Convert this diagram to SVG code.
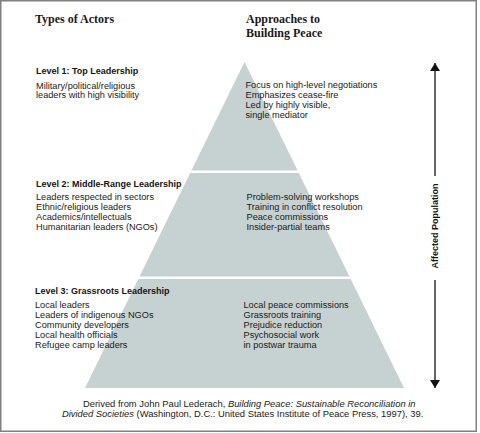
<svg xmlns="http://www.w3.org/2000/svg" width="480" height="433" viewBox="0 0 480 433">
<style>
.h{font-family:"Liberation Serif","Times New Roman",serif;font-weight:bold;font-size:12px;fill:#1a1a1a}
.b{font-family:"Liberation Sans",Arial,sans-serif;font-weight:bold;font-size:9px;fill:#151515}
.t{font-family:"Liberation Sans",Arial,sans-serif;font-size:9.2px;fill:#1a1a1a}
.c{font-family:"Liberation Sans",Arial,sans-serif;font-size:9.4px;fill:#1a1a1a}
.band{fill:#c6d1d1}
</style>
<defs>
<marker id="ah" viewBox="0 0 8 10" refX="8" refY="5" markerWidth="8" markerHeight="10" markerUnits="userSpaceOnUse" orient="auto">
<path d="M0,0 L8,5 L0,10 z" fill="#111"/>
</marker>
</defs>
<rect x="0.75" y="0.75" width="475.5" height="430.5" fill="#fff" stroke="#808080" stroke-width="1.5"/>
<g id="headers">
<text class="h" x="35" y="22.5">Types of Actors</text>
<text class="h" x="246" y="22.5">Approaches to</text>
<text class="h" x="246" y="36.5">Building Peace</text>
</g>
<g id="level1">
<polygon class="band" points="244.5,62 297.6,170.5 191.4,170.5"/>
<text class="b" x="36" y="73.5">Level 1: Top Leadership</text>
<text class="t" x="36" y="88.5">Military/political/religious</text>
<text class="t" x="36" y="98">leaders with high visibility</text>
<text class="t" x="245.5" y="88">Focus on high-level negotiations</text>
<text class="t" x="245.5" y="98">Emphasizes cease-fire</text>
<text class="t" x="245.5" y="108">Led by highly visible,</text>
<text class="t" x="245.5" y="118">single mediator</text>
</g>
<g id="level2">
<polygon class="band" points="190.2,173 298.8,173 349.5,276.5 139.5,276.5"/>
<text class="b" x="36" y="186.5">Level 2: Middle-Range Leadership</text>
<text class="t" x="36" y="199.5">Leaders respected in sectors</text>
<text class="t" x="36" y="209.5">Ethnic/religious leaders</text>
<text class="t" x="36" y="219.5">Academics/intellectuals</text>
<text class="t" x="36" y="229.5">Humanitarian leaders (NGOs)</text>
<text class="t" x="246.5" y="199.5">Problem-solving workshops</text>
<text class="t" x="246.5" y="209.5">Training in conflict resolution</text>
<text class="t" x="246.5" y="219.5">Peace commissions</text>
<text class="t" x="246.5" y="229.5">Insider-partial teams</text>
</g>
<g id="level3">
<polygon class="band" points="138.3,279 350.7,279 404,388 85,388"/>
<text class="b" x="35" y="294">Level 3: Grassroots Leadership</text>
<text class="t" x="35" y="307.5">Local leaders</text>
<text class="t" x="35" y="317.5">Leaders of indigenous NGOs</text>
<text class="t" x="35" y="327.5">Community developers</text>
<text class="t" x="35" y="337.5">Local health officials</text>
<text class="t" x="35" y="347.5">Refugee camp leaders</text>
<text class="t" x="243.5" y="308">Local peace commissions</text>
<text class="t" x="243.5" y="318">Grassroots training</text>
<text class="t" x="243.5" y="328">Prejudice reduction</text>
<text class="t" x="243.5" y="338">Psychosocial work</text>
<text class="t" x="243.5" y="348">in postwar trauma</text>
</g>
<g id="connectors">
<line x1="435" y1="176" x2="435" y2="63" stroke="#111" stroke-width="1.3" marker-end="url(#ah)"/>
<line x1="435" y1="280" x2="435" y2="388" stroke="#111" stroke-width="1.3" marker-end="url(#ah)"/>
<text class="b" transform="translate(438.3,226) rotate(-90)" text-anchor="middle">Affected Population</text>
</g>
<g id="caption">
<text class="c" x="83" y="407">Derived from John Paul Lederach, <tspan font-style="italic">Building Peace: Sustainable Reconciliation in</tspan></text>
<text class="c" x="62" y="417"><tspan font-style="italic">Divided Societies</tspan> (Washington, D.C.: United States Institute of Peace Press, 1997), 39.</text>
</g>
</svg>
